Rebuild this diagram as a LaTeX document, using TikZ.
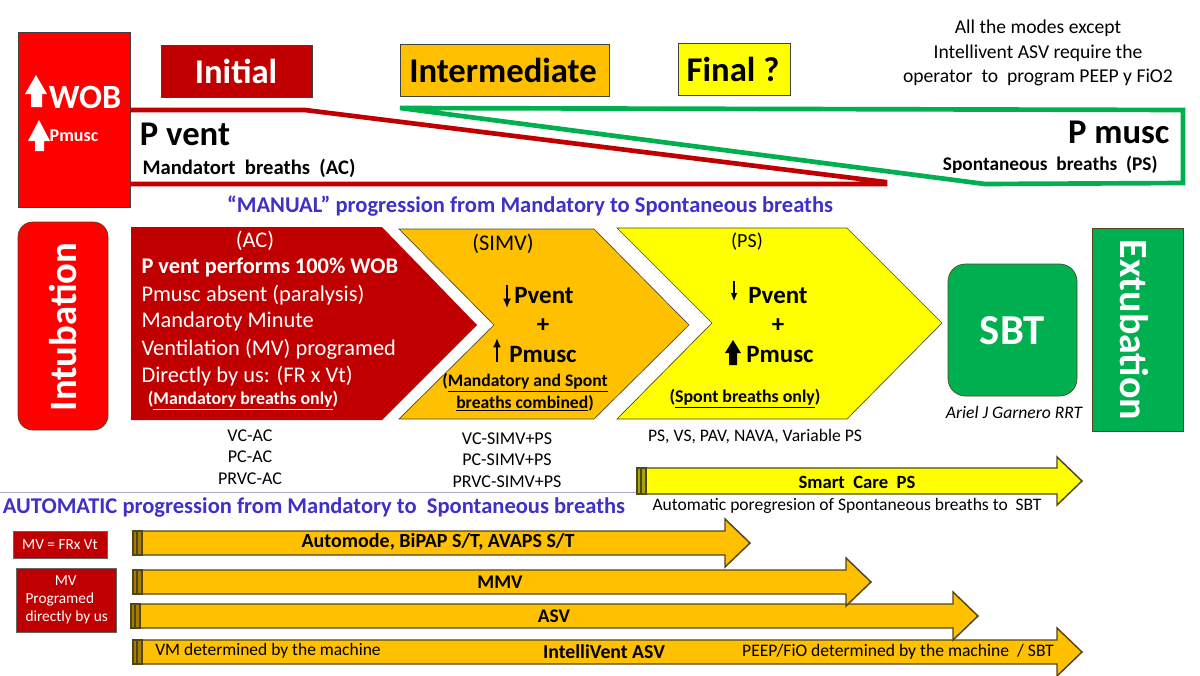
\documentclass[tikz,border=0pt]{standalone}
\usepackage{fontspec}
\usetikzlibrary{arrows.meta}
\setmainfont{Carlito}
\definecolor{darkred}{RGB}{192,0,0}
\definecolor{amber}{RGB}{255,192,0}
\definecolor{brightyellow}{RGB}{255,255,0}
\definecolor{brightred}{RGB}{255,0,0}
\definecolor{greenbox}{RGB}{0,176,80}
\definecolor{headblue}{RGB}{64,48,200}
\definecolor{edgegray}{RGB}{80,70,30}
\newcommand{\fs}[1]{\fontsize{#1}{#1}\selectfont}
\tikzset{every picture/.style={line width=0.75pt},
	lbl/.style={inner sep=0pt,align=center},
	blk/.style={lbl,font=\bfseries},
	titlebox/.style={draw=black!75,line width=0.75pt},
	barrow/.style={draw=edgegray,line width=1.1pt,line join=miter},
}
% x0, x1 (tip), y, half shaft, half head, fill
\newcommand{\longarrow}[6]{
	\draw [barrow,fill=#6] (#1+9,#3-#4) -- (#2-25,#3-#4) -- (#2-25,#3-#5) -- (#2,#3) -- (#2-25,#3+#5) -- (#2-25,#3+#4) -- (#1+9,#3+#4) -- cycle;
	\draw [barrow,fill=#6!65!black] (#1,#3-#4) rectangle (#1+4,#3+#4);
	\draw [barrow,fill=#6!65!black] (#1+4,#3-#4) rectangle (#1+9,#3+#4);
}
\begin{document}
\begin{tikzpicture}[x=0.75pt,y=0.75pt,yscale=-1,xscale=1]
	\useasboundingbox (0,0) rectangle (1200,675);

	% top band
	\draw [titlebox,fill=brightred] (18,32) rectangle (130,207);
	\draw [titlebox,fill=darkred] (161,45) rectangle (312,97);
	\draw [titlebox,fill=amber] (400,44) rectangle (609,96);
	\draw [titlebox,fill=brightyellow] (678,43) rectangle (790,95);
	\node (initial) [blk,text=white,font=\bfseries\fs{26}] at (236,71) {Initial};
	\node (intermediate) [blk,font=\bfseries\fs{26}] at (503,70) {Intermediate};
	\node (final) [blk,font=\bfseries\fs{26}] at (733,69) {Final ?};
	\node (wob) [blk,text=white,font=\bfseries\fs{25.5}] at (85,97) {WOB};
	\node (pmuscup) [blk,text=white,font=\bfseries\fs{13.5}] at (74,136) {Pmusc};
	\fill [white] (36,75) -- (47,94) -- (42,94) -- (42,107) -- (31,107) -- (31,94) -- (25,94) -- cycle;
	\fill [white] (39,120) -- (50,141) -- (44,141) -- (44,151) -- (35,151) -- (35,141) -- (28,141) -- cycle;

	\draw [draw=greenbox,line width=3.5pt,line join=miter] (400,108) -- (1183,110) -- (1183,183) -- (985,184) -- cycle;
	\draw [draw=darkred,line width=3.5pt] (130,110) -- (305,110) -- (885,182) -- (885,184) -- (130,184);
	\node (pvent) [blk,font=\bfseries\fs{26}] at (185,134) {P vent};
	\node (mandatort) [blk,font=\bfseries\fs{15.5}] at (249,168) {Mandatort\ \ breaths\ \ (AC)};
	\node (pmusc) [blk,font=\bfseries\fs{26},anchor=east] at (1170,132) {P musc};
	\node (spont) [blk,font=\bfseries\fs{14.5},anchor=east] at (1158,165) {Spontaneous\ \ breaths\ \ (PS)};
	\node (note) [lbl,font=\fs{14.7}] at (1038,53) {All the modes except\\[3.5pt]Intellivent ASV require the\\[3.5pt]operator\ \ to\ \ program PEEP y FiO2};

	% manual progression
	\node (manual) [blk,text=headblue,font=\bfseries\fs{16.9}] at (530,206) {“MANUAL” progression from Mandatory to Spontaneous breaths};
	\draw [line width=0.5pt,draw=edgegray,fill=brightred,rounded corners=11pt] (18,222) rectangle (108,430);
	\node (intubation) [blk,text=white,font=\bfseries\fs{29},rotate=90] at (63,327) {Intubation};
	\fill [darkred] (131,227) -- (382,227) -- (477,325) -- (382,420) -- (131,420) -- cycle;
	\draw [line width=0.5pt,draw=edgegray,fill=amber] (399,229) -- (594,229) -- (689,325) -- (594,419) -- (399,419) -- (494,325) -- cycle;
	\draw [line width=0.5pt,draw=edgegray,fill=brightyellow] (617,228) -- (847,228) -- (942,323) -- (847,419) -- (617,419) -- (712,323) -- cycle;

	\node (ac) [lbl,text=white,font=\fs{16.8}] at (255,241) {(AC)};
	\node (acone) [lbl,text=white,anchor=west,font=\bfseries\fs{16.8}] at (141,267) {P vent performs 100\% WOB};
	\node (actwo) [lbl,text=white,anchor=west,font=\fs{16.8}] at (141,295) {Pmusc absent (paralysis)};
	\node (acthree) [lbl,text=white,anchor=west,font=\fs{16.8}] at (141,322) {Mandaroty Minute};
	\node (acfour) [lbl,text=white,anchor=west,font=\fs{16.8}] at (141,349) {Ventilation (MV) programed};
	\node (acfive) [lbl,text=white,anchor=west,font=\fs{16.8}] at (141,376) {Directly by us: (FR x Vt)};
	\node (acsix) [lbl,text=white,font=\bfseries\fs{13.4}] at (243,401) {(\underline{Mandatory breaths only})};
	\node (vcac) [lbl,font=\fs{13.5}] at (250,457) {VC-AC\\[2.5pt]PC-AC\\[2.5pt]PRVC-AC};

	\node (simv) [lbl,font=\fs{16.8}] at (503,244) {(SIMV)};
	\node (pventb) [blk,font=\bfseries\fs{18.7}] at (544,296) {Pvent};
	\node (plusb) [blk,font=\bfseries\fs{18.7}] at (543,326) {+};
	\node (pmuscb) [blk,font=\bfseries\fs{18.7}] at (543,355) {Pmusc};
	\node (combined) [blk,font=\bfseries\fs{13.2}] at (525,392) {(\underline{Mandatory and Spont}\\[1.5pt]\underline{breaths combined})};
	\node (vcsimv) [lbl,font=\fs{13.5}] at (507,460) {VC-SIMV+PS\\[2.5pt]PC-SIMV+PS\\[2.5pt]PRVC-SIMV+PS};

	\node (ps) [lbl,font=\fs{15}] at (747,242) {(PS)};
	\node (pventc) [blk,font=\bfseries\fs{18.7}] at (778,296) {Pvent};
	\node (plusc) [blk,font=\bfseries\fs{18.7}] at (778,326) {+};
	\node (pmuscc) [blk,font=\bfseries\fs{18.7}] at (780,355) {Pmusc};
	\node (sponly) [blk,font=\bfseries\fs{13.4}] at (745,399) {(\underline{Spont breaths only})};
	\node (pslist) [lbl,font=\fs{13.2}] at (755,437) {PS, VS, PAV, NAVA, Variable PS};

	% up and down arrows inside the chevrons
	\draw [-{Latex[length=7pt,width=6pt]},line width=1.3pt] (507,285) -- (507,308);
	\draw [-{Latex[length=7pt,width=6pt]},line width=1.3pt] (497,362) -- (497,338);
	\draw [-{Latex[length=6pt,width=5pt]},line width=0.8pt] (734,281) -- (734,301);
	\fill (733,340) -- (741,353) -- (737,353) -- (737,365) -- (729,365) -- (729,353) -- (725,353) -- cycle;

	\draw [line width=0.5pt,draw=edgegray,fill=greenbox,rounded corners=13pt] (948,264) rectangle (1077,396);
	\node (sbt) [blk,text=white,font=\bfseries\fs{32}] at (1012,331) {SBT};
	\node (ariel) [lbl,font=\itshape\fs{13.2}] at (1014,412) {Ariel J Garnero RRT};
	\draw [line width=0.5pt,draw=edgegray,fill=greenbox] (1092,228) rectangle (1183,431);
	\node (extubation) [blk,text=white,font=\bfseries\fs{30},rotate=-90] at (1134,330) {Extubation};

	% automatic progression
	\draw [draw=blue!35!gray!50,line width=0.5pt] (0,492) -- (640,492);
	\longarrow{637}{1082}{481}{13}{24}{brightyellow}
	\node (smartcare) [blk,font=\bfseries\fs{14}] at (857,482) {Smart\ \ Care\ \ PS};
	\node (autoprog) [lbl,font=\fs{13.15}] at (847,506) {Automatic poregresion of Spontaneous breaths to\ \ SBT};
	\node (automatic) [blk,text=headblue,font=\bfseries\fs{16.9}] at (314,507) {AUTOMATIC progression from Mandatory to\ \ Spontaneous breaths};
	\draw [line width=0.75pt,draw=black!60,fill=darkred] (13,531) rectangle (107,558);
	\node (mvfr) [lbl,text=white,font=\fs{11.5}] at (60,545) {MV = FRx Vt};
	\draw [line width=0.75pt,draw=black!60,fill=darkred] (16,568) rectangle (116,632);
	\node (mvprog) [lbl,text=white,font=\fs{11.5},anchor=west,align=left] at (25,600) {\hspace*{22pt}MV\\[2pt]Programed\\[2pt]directly by us};

	\longarrow{133}{1082}{652}{12}{24}{amber}
	\longarrow{131}{978}{616}{12}{24}{amber}
	\longarrow{133}{871}{582}{12}{24}{amber}
	\longarrow{133}{750}{543}{12}{24}{amber}
	\node (automode) [blk,font=\bfseries\fs{15}] at (438,542) {Automode, BiPAP S/T, AVAPS S/T};
	\node (mmv) [blk,font=\bfseries\fs{14.5}] at (500,582) {MMV};
	\node (asv) [blk,font=\bfseries\fs{14.5}] at (554,616) {ASV};
	\node (vm) [lbl,font=\fs{13.1}] at (268,651) {VM determined by the machine};
	\node (intelli) [blk,font=\bfseries\fs{14.8}] at (604,652) {IntelliVent ASV};
	\node (peep) [lbl,font=\fs{13.2}] at (898,652) {PEEP/FiO determined by the machine\ \ / SBT};
\end{tikzpicture}
\end{document}
